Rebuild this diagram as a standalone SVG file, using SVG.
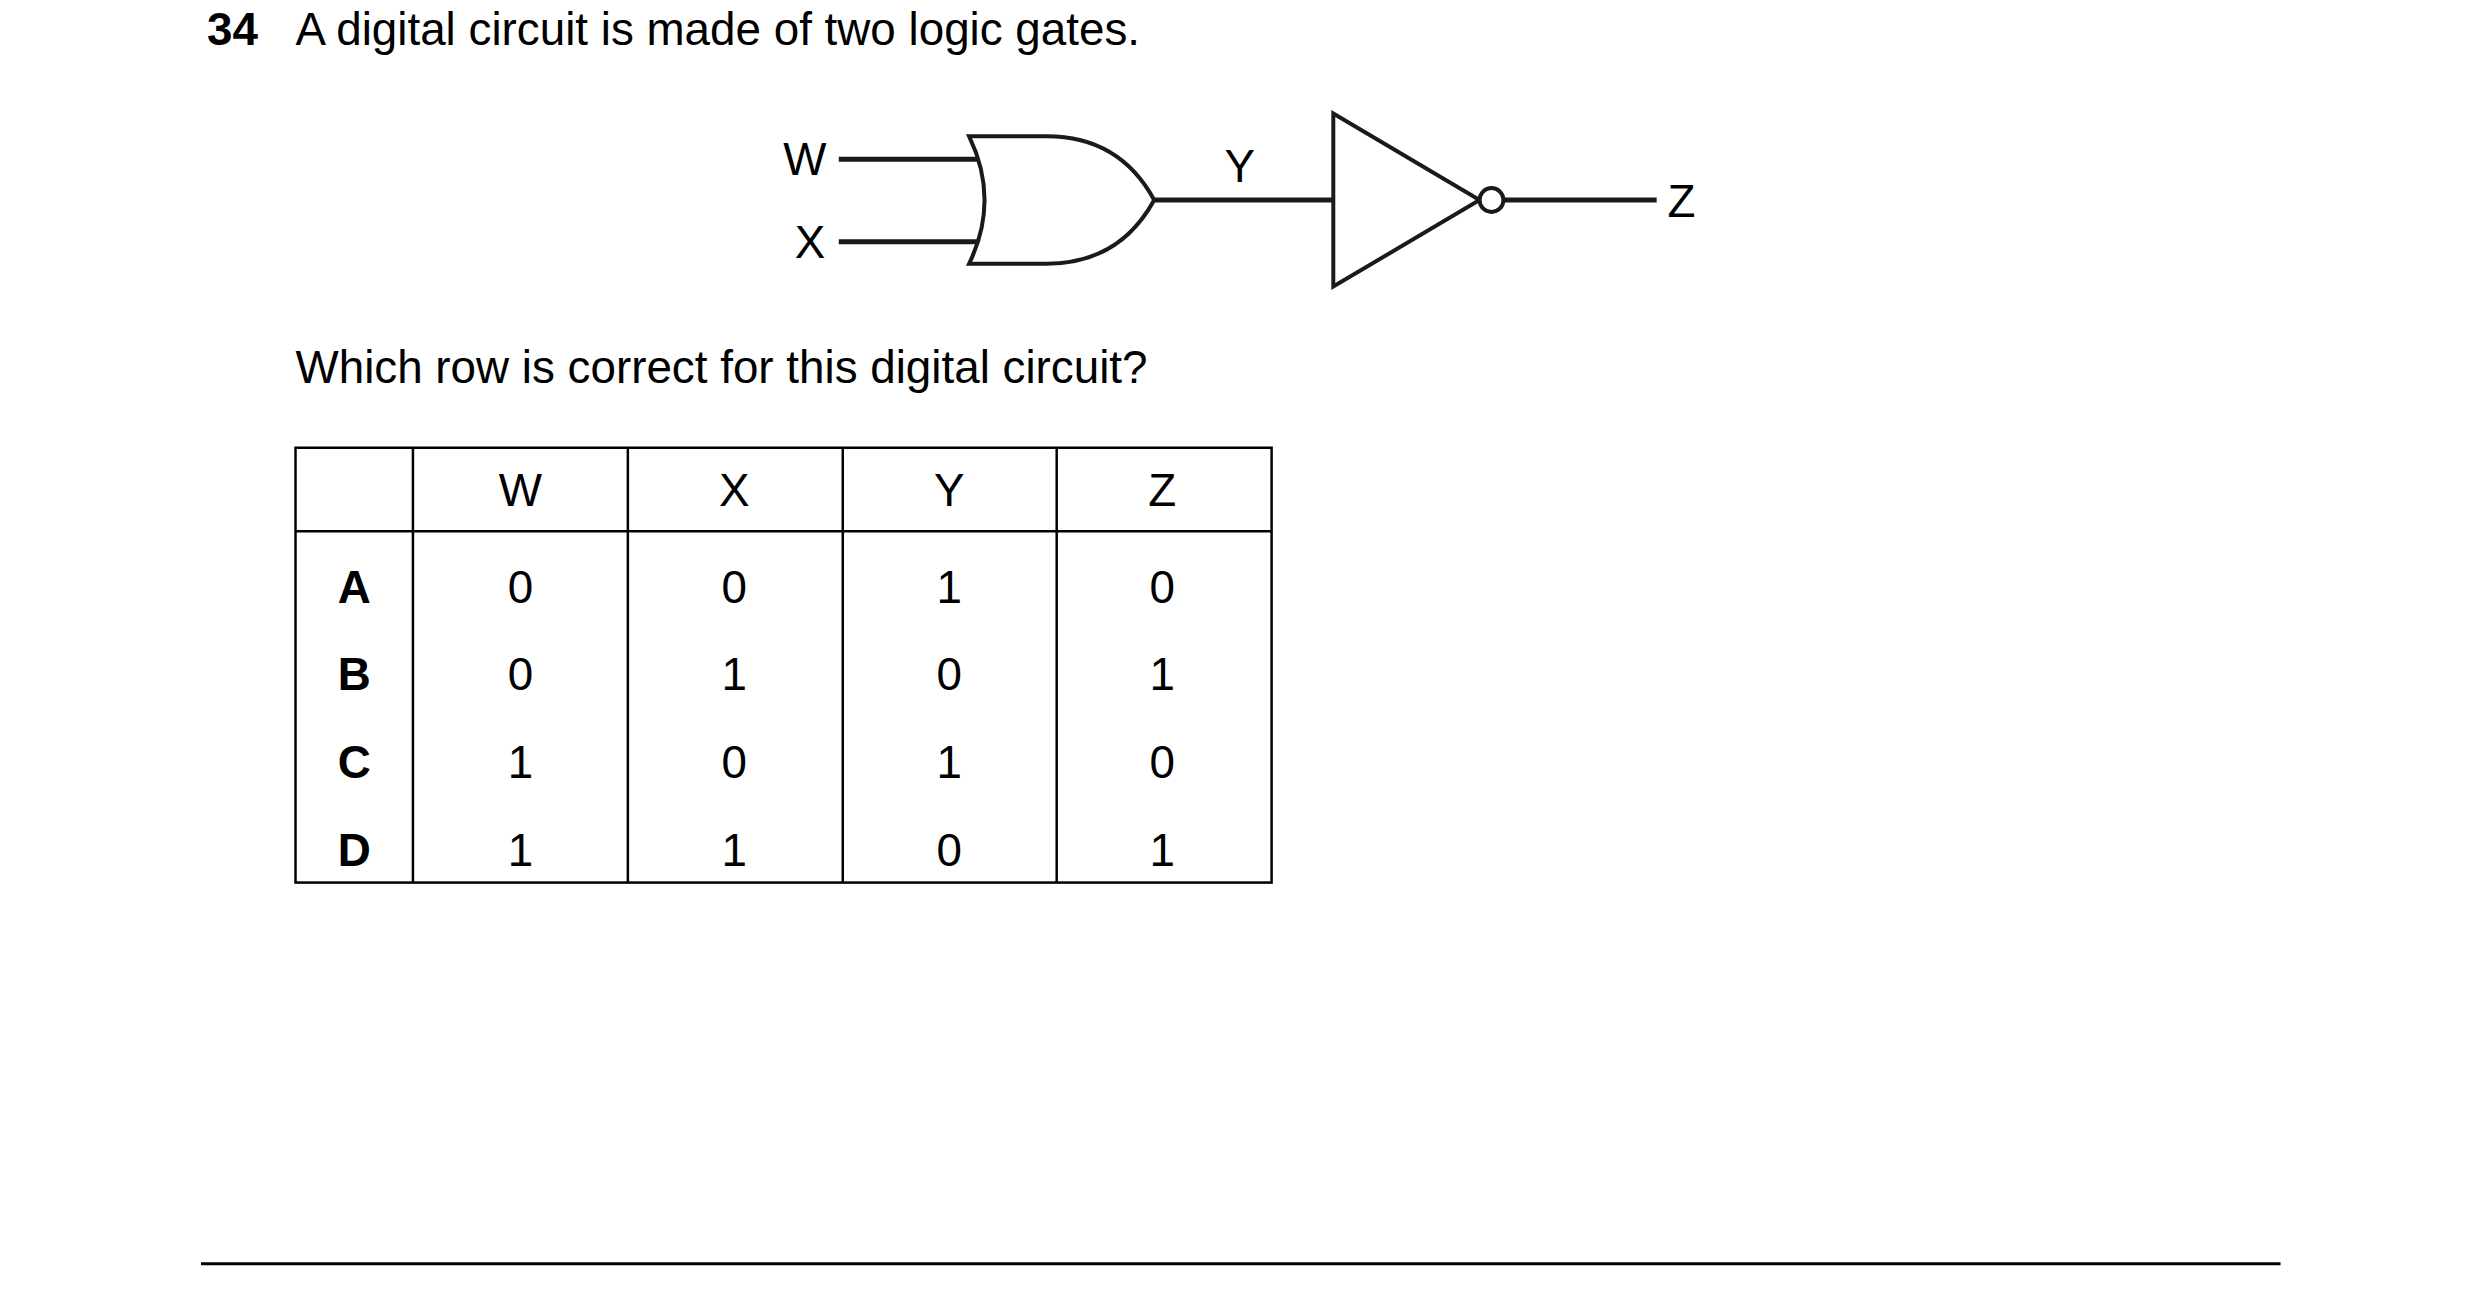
<svg xmlns="http://www.w3.org/2000/svg" width="2480" height="1303" viewBox="0 0 2480 1303">
<style>
text{font-family:"Liberation Sans",Arial,sans-serif;font-size:46px;fill:#000}
.b{font-weight:bold}
.c{text-anchor:middle}
.w{stroke:#1a1a1a;stroke-width:5;fill:none}
.g{stroke:#1a1a1a;stroke-width:4;fill:#fff}
.t{stroke:#000;stroke-width:2.5;fill:none}
</style>
<rect width="2480" height="1303" fill="#fff"/>
<g transform="scale(0.995)">
<text x="208" y="45" class="b">34</text>
<text x="297" y="45">A digital circuit is made of two logic gates.</text>
<g id="connectors">
<line class="w" x1="843" y1="160" x2="985" y2="160"/>
<line class="w" x1="843" y1="243" x2="985" y2="243"/>
<line class="w" x1="1160" y1="201" x2="1340" y2="201"/>
<line class="w" x1="1512" y1="201" x2="1665" y2="201"/>
</g>
<g id="or-gate">
<path class="g" d="M974 137 L1052 137 Q1125 137 1160 201 Q1125 265 1052 265 L974 265 Q1005 201 974 137 Z"/>
</g>
<g id="not-gate">
<path class="g" d="M1340 114 L1487 201 L1340 288 Z"/>
<circle class="g" cx="1499" cy="201" r="12"/>
</g>
<g id="labels">
<text x="809" y="176" class="c">W</text>
<text x="814" y="259" class="c">X</text>
<text x="1246" y="183" class="c">Y</text>
<text x="1690" y="218" class="c">Z</text>
</g>
<text x="297" y="385">Which row is correct for this digital circuit?</text>
<g id="table">
<rect class="t" x="297" y="450" width="981" height="437"/>
<line class="t" x1="297" y1="534" x2="1278" y2="534"/>
<line class="t" x1="415" y1="450" x2="415" y2="887"/>
<line class="t" x1="631" y1="450" x2="631" y2="887"/>
<line class="t" x1="847" y1="450" x2="847" y2="887"/>
<line class="t" x1="1062" y1="450" x2="1062" y2="887"/>
<text x="523" y="509" class="c">W</text><text x="738" y="509" class="c">X</text><text x="954" y="509" class="c">Y</text><text x="1168" y="509" class="c">Z</text>
<text x="356" y="606" class="c b">A</text><text x="523" y="606" class="c">0</text><text x="738" y="606" class="c">0</text><text x="954" y="606" class="c">1</text><text x="1168" y="606" class="c">0</text>
<text x="356" y="693" class="c b">B</text><text x="523" y="693" class="c">0</text><text x="738" y="693" class="c">1</text><text x="954" y="693" class="c">0</text><text x="1168" y="693" class="c">1</text>
<text x="356" y="782" class="c b">C</text><text x="523" y="782" class="c">1</text><text x="738" y="782" class="c">0</text><text x="954" y="782" class="c">1</text><text x="1168" y="782" class="c">0</text>
<text x="356" y="870" class="c b">D</text><text x="523" y="870" class="c">1</text><text x="738" y="870" class="c">1</text><text x="954" y="870" class="c">0</text><text x="1168" y="870" class="c">1</text>
</g>
<line x1="202" y1="1270" x2="2292" y2="1270" stroke="#000" stroke-width="3"/>
</g>
</svg>
